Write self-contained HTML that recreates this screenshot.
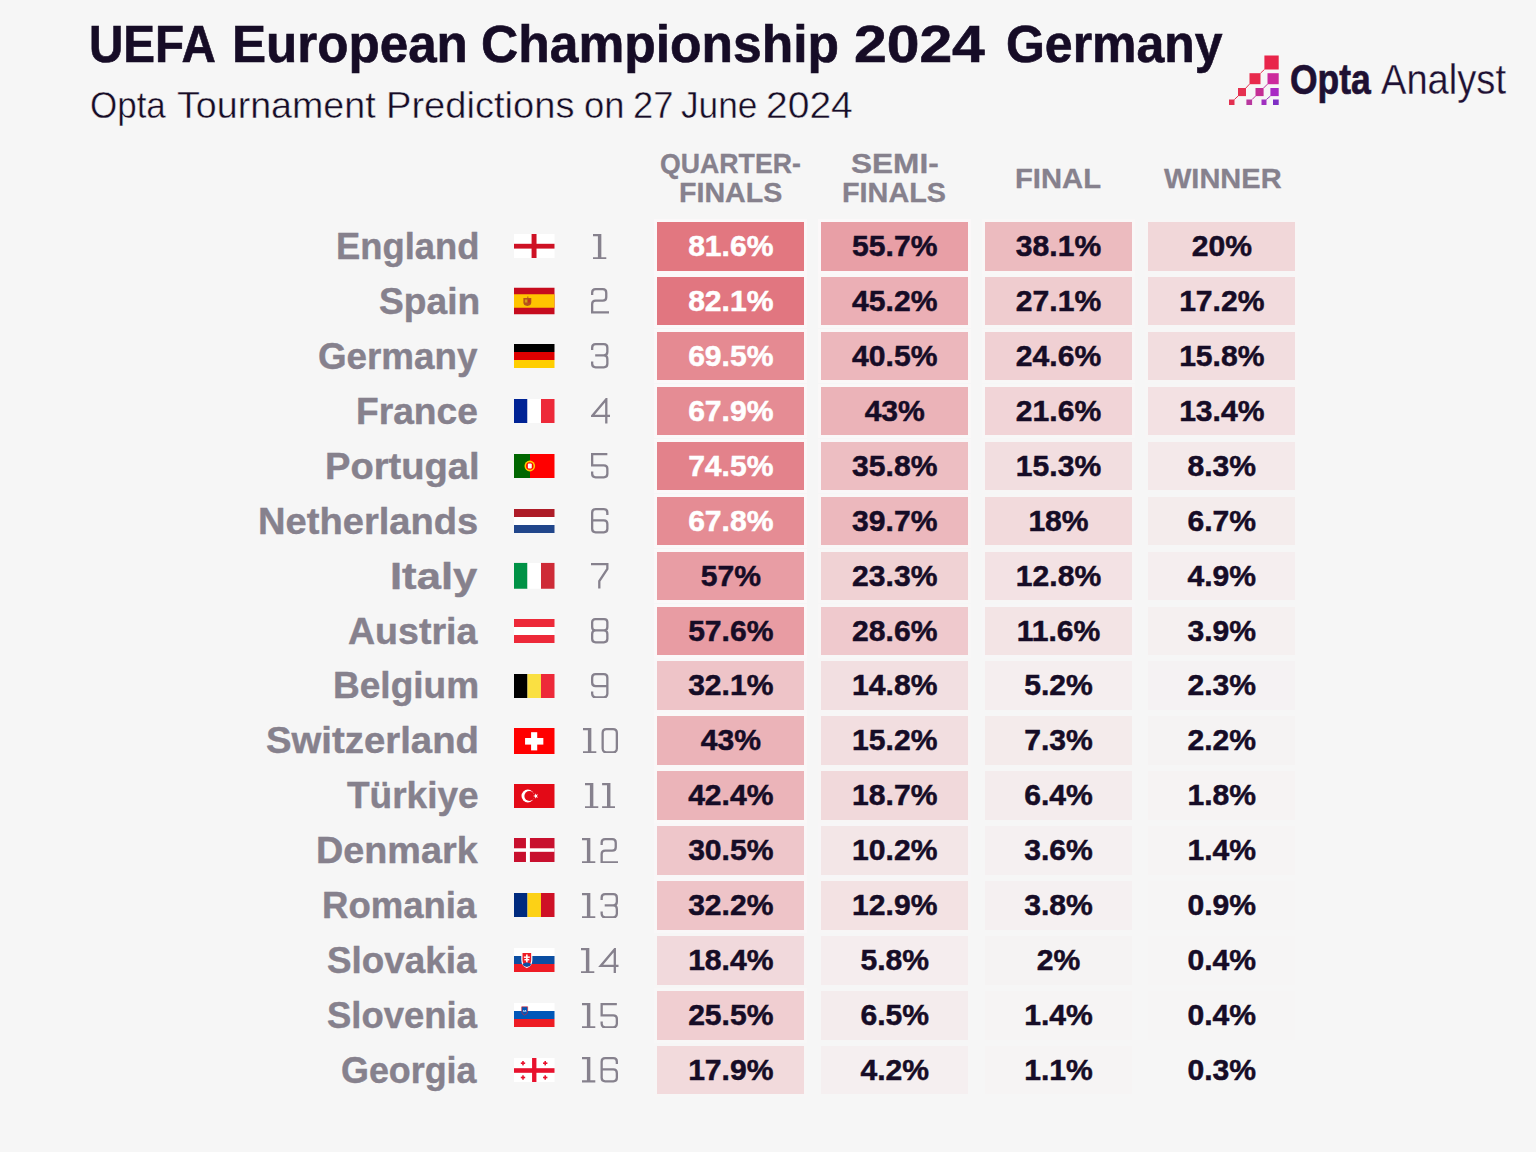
<!DOCTYPE html>
<html><head><meta charset="utf-8"><style>
html,body{margin:0;padding:0}
body{width:1536px;height:1152px;background:#f6f6f6;position:relative;overflow:hidden;font-family:"Liberation Sans",sans-serif}
.title{position:absolute;left:89px;top:15.3px;font-size:51px;font-weight:bold;color:#160c26;white-space:nowrap;line-height:60px;transform:scaleX(1.0168);transform-origin:0 0;-webkit-text-stroke:0.6px #160c26}
.sub{position:absolute;left:90px;top:84px;font-size:37px;color:#160c26;white-space:nowrap;line-height:44px;transform-origin:0 0;transform:scaleX(0.995)}
.hdr{position:absolute;width:200px;text-align:center;font-weight:bold;font-size:28.5px;line-height:29.5px;color:#86818d;top:148px;-webkit-text-stroke:0.3px #86818d}
.name{position:absolute;font-size:36.5px;font-weight:bold;color:#86818d;line-height:60px;white-space:nowrap;transform-origin:0 0;-webkit-text-stroke:0.4px #86818d}
.flag{position:absolute;left:514.4px;width:41px;transform:translateY(-50%);line-height:0}
.flag svg{display:block;width:40.5px}
.rk{position:absolute}
.pt{position:absolute;white-space:nowrap;line-height:80px;transform-origin:0 0}
.cell{position:absolute;width:147px;height:48.5px;text-align:center;line-height:48.1px;font-weight:bold;font-size:30.1px;-webkit-text-stroke:0.5px currentColor}
</style></head><body>
<div class="pt" style="left:89.20px;top:5.30px;font-family:'Liberation Sans';font-weight:bold;font-size:51px;-webkit-text-stroke:0.6px #160c26;color:#160c26;transform:scaleX(0.9333)">UEFA</div>
<div class="pt" style="left:231.79px;top:5.30px;font-family:'Liberation Sans';font-weight:bold;font-size:51px;-webkit-text-stroke:0.6px #160c26;color:#160c26;transform:scaleX(1.0026)">European</div>
<div class="pt" style="left:481.18px;top:5.30px;font-family:'Liberation Sans';font-weight:bold;font-size:51px;-webkit-text-stroke:0.6px #160c26;color:#160c26;transform:scaleX(1.0111)">Championship</div>
<div class="pt" style="left:854.05px;top:5.30px;font-family:'Liberation Sans';font-weight:bold;font-size:51px;-webkit-text-stroke:0.6px #160c26;color:#160c26;transform:scaleX(1.1531)">2024</div>
<div class="pt" style="left:1006.14px;top:5.30px;font-family:'Liberation Sans';font-weight:bold;font-size:51px;-webkit-text-stroke:0.6px #160c26;color:#160c26;transform:scaleX(0.9799)">Germany</div>
<div class="pt" style="left:89.81px;top:66.00px;font-family:'Liberation Sans';font-size:37px;-webkit-text-stroke:0.45px #f6f6f6;color:#160c26;transform:scaleX(0.9449)">Opta</div>
<div class="pt" style="left:177.38px;top:66.00px;font-family:'Liberation Sans';font-size:37px;-webkit-text-stroke:0.45px #f6f6f6;color:#160c26;transform:scaleX(1.0165)">Tournament</div>
<div class="pt" style="left:385.51px;top:66.00px;font-family:'Liberation Sans';font-size:37px;-webkit-text-stroke:0.45px #f6f6f6;color:#160c26;transform:scaleX(1.0296)">Predictions</div>
<div class="pt" style="left:583.93px;top:66.00px;font-family:'Liberation Sans';font-size:37px;-webkit-text-stroke:0.45px #f6f6f6;color:#160c26;transform:scaleX(0.9838)">on</div>
<div class="pt" style="left:633.43px;top:66.00px;font-family:'Liberation Sans';font-size:37px;-webkit-text-stroke:0.45px #f6f6f6;color:#160c26;transform:scaleX(0.9838)">27</div>
<div class="pt" style="left:681.25px;top:66.00px;font-family:'Liberation Sans';font-size:37px;-webkit-text-stroke:0.45px #f6f6f6;color:#160c26;transform:scaleX(0.9526)">June</div>
<div class="pt" style="left:766.09px;top:66.00px;font-family:'Liberation Sans';font-size:37px;-webkit-text-stroke:0.45px #f6f6f6;color:#160c26;transform:scaleX(1.0544)">2024</div>
<div class="pt" style="left:659.86px;top:122.75px;font-family:'Liberation Sans';font-weight:bold;font-size:28.5px;-webkit-text-stroke:0.3px #86818d;color:#86818d;transform:scaleX(0.9369)">QUARTER-</div>
<div class="pt" style="left:678.79px;top:152.25px;font-family:'Liberation Sans';font-weight:bold;font-size:28.5px;-webkit-text-stroke:0.3px #86818d;color:#86818d;transform:scaleX(1.0045)">FINALS</div>
<div class="pt" style="left:850.59px;top:122.75px;font-family:'Liberation Sans';font-weight:bold;font-size:28.5px;-webkit-text-stroke:0.3px #86818d;color:#86818d;transform:scaleX(1.1078)">SEMI-</div>
<div class="pt" style="left:841.73px;top:152.25px;font-family:'Liberation Sans';font-weight:bold;font-size:28.5px;-webkit-text-stroke:0.3px #86818d;color:#86818d;transform:scaleX(1.0105)">FINALS</div>
<div class="pt" style="left:1014.55px;top:137.75px;font-family:'Liberation Sans';font-weight:bold;font-size:28.5px;-webkit-text-stroke:0.3px #86818d;color:#86818d;transform:scaleX(1.0247)">FINAL</div>
<div class="pt" style="left:1163.70px;top:137.75px;font-family:'Liberation Sans';font-weight:bold;font-size:28.5px;-webkit-text-stroke:0.3px #86818d;color:#86818d;transform:scaleX(1.0174)">WINNER</div>
<div class="pt" style="left:1290.41px;top:39.50px;font-family:'Liberation Sans';font-weight:bold;font-size:42px;-webkit-text-stroke:0.7px #1e1033;color:#1e1033;transform:scaleX(0.8437)">Opta</div>
<div class="pt" style="left:1380.69px;top:39.50px;font-family:'Liberation Sans';font-size:42px;-webkit-text-stroke:0.3px #f6f6f6;color:#1e1033;transform:scaleX(0.9074)">Analyst</div>

<svg style="position:absolute;left:1224px;top:50px" width="60" height="60" viewBox="1224 50 60 60">
<g stroke-width="1" fill="none">
<line x1="1234.4" y1="99.5" x2="1238" y2="96.1" stroke="#e6304f"/>
<line x1="1245.9" y1="88" x2="1249.5" y2="84.1" stroke="#e6304f"/>
<line x1="1260.5" y1="73.2" x2="1264.4" y2="69.5" stroke="#e6304f"/>
<line x1="1252.1" y1="99.5" x2="1255.5" y2="96.1" stroke="#c0309e"/>
<line x1="1263.6" y1="88" x2="1267.5" y2="84.1" stroke="#c0309e"/>
<line x1="1266.4" y1="99.5" x2="1270.4" y2="96.1" stroke="#a030c0"/>
</g>
<rect x="1264.4" y="55.5" width="14.3" height="14" fill="#e8254a"/>
<rect x="1249.5" y="73.2" width="11" height="11" fill="#e82a4c"/>
<rect x="1267.5" y="73.2" width="11.2" height="11" fill="#cc2a9c"/>
<rect x="1238" y="88" width="8" height="8.1" fill="#e5304f"/>
<rect x="1255.5" y="88" width="8.1" height="8.1" fill="#c42e94"/>
<rect x="1270.4" y="88" width="8.3" height="8.1" fill="#a82ac4"/>
<rect x="1229" y="99.5" width="5.5" height="5.5" fill="#e23050"/>
<rect x="1246.4" y="99.5" width="5.7" height="5.5" fill="#b8389e"/>
<rect x="1261.5" y="99.5" width="5" height="5.5" fill="#a030c0"/>
<rect x="1273" y="99.5" width="5.7" height="5.5" fill="#7e2ec4"/>
</svg>
<div class="name" style="left:335.81px;top:217.00px;transform:scaleX(0.9964)">England</div><div class="flag" style="top:246.25px"><svg preserveAspectRatio="none" width="41" height="24" viewBox="0 0 41 24"><rect width="41" height="24" fill="#fff"/><rect x="0" y="9.8" width="41" height="4.8" fill="#ce1124"/><rect x="17.8" y="0" width="5" height="24" fill="#ce1124"/></svg></div><svg class="rk" style="left:593.35px;top:233.50px" width="13.30" height="25.5" viewBox="0 0 13.30 25.5"><g fill="none" stroke="#86818d" stroke-width="2.3"><path transform="translate(0.00,0)" d="M0,1.15 H7.2 V24.35 M0,24.35 H13.3 M6.05,1.15 V25.5"/></g></svg><div class="cell" style="left:657.3px;top:222.00px;background:#e27780;color:#fff;box-shadow:0 0 0 3px rgba(255,250,251,0.60)">81.6%</div><div class="cell" style="left:821.25px;top:222.00px;background:#e89fa6;color:#160c26;box-shadow:0 0 0 3px rgba(255,250,251,0.56)">55.7%</div><div class="cell" style="left:985px;top:222.00px;background:#ecbbbf;color:#160c26;box-shadow:0 0 0 3px rgba(255,250,251,0.38)">38.1%</div><div class="cell" style="left:1148.3px;top:222.00px;background:#f1d7d9;color:#160c26;box-shadow:0 0 0 3px rgba(255,250,251,0.20)">20%</div><div class="name" style="left:378.58px;top:271.93px;transform:scaleX(1.0177)">Spain</div><div class="flag" style="top:301.18px"><svg preserveAspectRatio="none" width="41" height="27" viewBox="0 0 41 27"><rect width="41" height="27" fill="#c60b1e"/><rect y="6.75" width="41" height="13.5" fill="#ffc400"/><path d="M9.5,10.5 h4 v-1.5 h1 v1.5 h3 v4.5 q0,3 -4,3.5 q-4,-0.5 -4,-3.5z" fill="#b5531d"/><rect x="11" y="12" width="2.6" height="3" fill="#d4a017"/><rect x="14" y="12" width="2.4" height="3" fill="#c8321a"/></svg></div><svg class="rk" style="left:591.00px;top:288.43px" width="18.00" height="25.5" viewBox="0 0 18.00 25.5"><g fill="none" stroke="#86818d" stroke-width="2.3"><path transform="translate(0.00,0)" d="M1.15,7 V4.65 Q1.15,1.15 4.65,1.15 H11.749999999999998 Q15.249999999999998,1.15 15.249999999999998,4.65 V9.2 Q15.249999999999998,12.6 11.749999999999998,12.6 H4.65 Q1.15,12.6 1.15,16 V24.35 H18"/></g></svg><div class="cell" style="left:657.3px;top:276.93px;background:#e17680;color:#fff;box-shadow:0 0 0 3px rgba(255,250,251,0.60)">82.1%</div><div class="cell" style="left:821.25px;top:276.93px;background:#ebafb5;color:#160c26;box-shadow:0 0 0 3px rgba(255,250,251,0.45)">45.2%</div><div class="cell" style="left:985px;top:276.93px;background:#efcccf;color:#160c26;box-shadow:0 0 0 3px rgba(255,250,251,0.27)">27.1%</div><div class="cell" style="left:1148.3px;top:276.93px;background:#f2dbdd;color:#160c26;box-shadow:0 0 0 3px rgba(255,250,251,0.17)">17.2%</div><div class="name" style="left:318.09px;top:326.86px;transform:scaleX(1.0076)">Germany</div><div class="flag" style="top:356.11px"><svg preserveAspectRatio="none" width="41" height="24" viewBox="0 0 41 24"><rect width="41" height="8" fill="#000"/><rect y="8" width="41" height="8" fill="#dd0000"/><rect y="16" width="41" height="8" fill="#ffce00"/></svg></div><svg class="rk" style="left:591.25px;top:343.36px" width="17.50" height="25.5" viewBox="0 0 17.50 25.5"><g fill="none" stroke="#86818d" stroke-width="2.3"><path transform="translate(0.00,0)" d="M1.15,7 V4.65 Q1.15,1.15 4.65,1.15 H12.850000000000001 Q16.35,1.15 16.35,4.65 V8.8 Q16.35,12.4 12.850000000000001,12.4 H4.2 M12.850000000000001,12.4 Q16.35,12.4 16.35,16 V20.85 Q16.35,24.35 12.850000000000001,24.35 H4.65 Q1.15,24.35 1.15,20.85 V18.5"/></g></svg><div class="cell" style="left:657.3px;top:331.86px;background:#e58a92;color:#fff;box-shadow:0 0 0 3px rgba(255,250,251,0.60)">69.5%</div><div class="cell" style="left:821.25px;top:331.86px;background:#ecb7bc;color:#160c26;box-shadow:0 0 0 3px rgba(255,250,251,0.41)">40.5%</div><div class="cell" style="left:985px;top:331.86px;background:#f0d0d3;color:#160c26;box-shadow:0 0 0 3px rgba(255,250,251,0.25)">24.6%</div><div class="cell" style="left:1148.3px;top:331.86px;background:#f2dddf;color:#160c26;box-shadow:0 0 0 3px rgba(255,250,251,0.16)">15.8%</div><div class="name" style="left:356.06px;top:381.79px;transform:scaleX(1.0188)">France</div><div class="flag" style="top:411.04px"><svg preserveAspectRatio="none" width="41" height="24" viewBox="0 0 41 24"><rect width="13.67" height="24" fill="#002395"/><rect x="13.67" width="13.67" height="24" fill="#fff"/><rect x="27.33" width="13.67" height="24" fill="#ed2939"/></svg></div><svg class="rk" style="left:590.50px;top:398.29px" width="19.00" height="25.5" viewBox="0 0 19.00 25.5"><g fill="none" stroke="#86818d" stroke-width="2.3"><path transform="translate(0.00,0)" d="M15.3,25.5 V1.15 L1.15,17.9 H19"/></g></svg><div class="cell" style="left:657.3px;top:386.79px;background:#e58c94;color:#fff;box-shadow:0 0 0 3px rgba(255,250,251,0.60)">67.9%</div><div class="cell" style="left:821.25px;top:386.79px;background:#ebb3b8;color:#160c26;box-shadow:0 0 0 3px rgba(255,250,251,0.43)">43%</div><div class="cell" style="left:985px;top:386.79px;background:#f1d4d7;color:#160c26;box-shadow:0 0 0 3px rgba(255,250,251,0.22)">21.6%</div><div class="cell" style="left:1148.3px;top:386.79px;background:#f3e1e3;color:#160c26;box-shadow:0 0 0 3px rgba(255,250,251,0.13)">13.4%</div><div class="name" style="left:324.81px;top:436.72px;transform:scaleX(1.0444)">Portugal</div><div class="flag" style="top:465.97px"><svg preserveAspectRatio="none" width="41" height="24" viewBox="0 0 41 24"><rect width="41" height="24" fill="#ff0000"/><rect width="16.2" height="24" fill="#006600"/><circle cx="16" cy="12" r="5.4" fill="#ffcc00"/><circle cx="16" cy="12" r="3.8" fill="#ff0000"/><rect x="14" y="9.6" width="4" height="4.8" rx="1" fill="#fff"/></svg></div><svg class="rk" style="left:591.25px;top:453.22px" width="17.50" height="25.5" viewBox="0 0 17.50 25.5"><g fill="none" stroke="#86818d" stroke-width="2.3"><path transform="translate(0.00,0)" d="M16.35,1.15 H1.15 V12.3 H12.850000000000001 Q16.35,12.3 16.35,15.8 V20.85 Q16.35,24.35 12.850000000000001,24.35 H4.65 Q1.15,24.35 1.15,20.85 V18.5"/></g></svg><div class="cell" style="left:657.3px;top:441.72px;background:#e3828b;color:#fff;box-shadow:0 0 0 3px rgba(255,250,251,0.60)">74.5%</div><div class="cell" style="left:821.25px;top:441.72px;background:#edbec2;color:#160c26;box-shadow:0 0 0 3px rgba(255,250,251,0.36)">35.8%</div><div class="cell" style="left:985px;top:441.72px;background:#f2dee0;color:#160c26;box-shadow:0 0 0 3px rgba(255,250,251,0.15)">15.3%</div><div class="cell" style="left:1148.3px;top:441.72px;background:#f4e9ea;color:#160c26;box-shadow:0 0 0 3px rgba(255,250,251,0.08)">8.3%</div><div class="name" style="left:258.01px;top:491.65px;transform:scaleX(1.0442)">Netherlands</div><div class="flag" style="top:520.90px"><svg preserveAspectRatio="none" width="41" height="24" viewBox="0 0 41 24"><rect width="41" height="8" fill="#ae1c28"/><rect y="8" width="41" height="8" fill="#fff"/><rect y="16" width="41" height="8" fill="#21468b"/></svg></div><svg class="rk" style="left:591.25px;top:508.15px" width="17.50" height="25.5" viewBox="0 0 17.50 25.5"><g fill="none" stroke="#86818d" stroke-width="2.3"><path transform="translate(0.00,0)" d="M16.35,7 V4.65 Q16.35,1.15 12.850000000000001,1.15 H4.65 Q1.15,1.15 1.15,4.65 V20.85 Q1.15,24.35 4.65,24.35 H12.850000000000001 Q16.35,24.35 16.35,20.85 V16 Q16.35,12.4 12.850000000000001,12.4 H1.15"/></g></svg><div class="cell" style="left:657.3px;top:496.65px;background:#e58c94;color:#fff;box-shadow:0 0 0 3px rgba(255,250,251,0.60)">67.8%</div><div class="cell" style="left:821.25px;top:496.65px;background:#ecb8bd;color:#160c26;box-shadow:0 0 0 3px rgba(255,250,251,0.40)">39.7%</div><div class="cell" style="left:985px;top:496.65px;background:#f2dadc;color:#160c26;box-shadow:0 0 0 3px rgba(255,250,251,0.18)">18%</div><div class="cell" style="left:1148.3px;top:496.65px;background:#f4ecec;color:#160c26;box-shadow:0 0 0 3px rgba(255,250,251,0.07)">6.7%</div><div class="name" style="left:390.11px;top:546.58px;transform:scaleX(1.1944)">Italy</div><div class="flag" style="top:575.83px"><svg preserveAspectRatio="none" width="41" height="26.6" viewBox="0 0 41 26.6"><rect width="13.67" height="26.6" fill="#009246"/><rect x="13.67" width="13.67" height="26.6" fill="#fff"/><rect x="27.33" width="13.67" height="26.6" fill="#ce2b37"/></svg></div><svg class="rk" style="left:591.25px;top:563.08px" width="17.50" height="25.5" viewBox="0 0 17.50 25.5"><g fill="none" stroke="#86818d" stroke-width="2.3"><path transform="translate(0.00,0)" d="M0,1.15 H16.35 V6 L8.3,18.2 V25.5"/></g></svg><div class="cell" style="left:657.3px;top:551.58px;background:#e89da4;color:#160c26;box-shadow:0 0 0 3px rgba(255,250,251,0.57)">57%</div><div class="cell" style="left:821.25px;top:551.58px;background:#f0d2d4;color:#160c26;box-shadow:0 0 0 3px rgba(255,250,251,0.23)">23.3%</div><div class="cell" style="left:985px;top:551.58px;background:#f3e2e4;color:#160c26;box-shadow:0 0 0 3px rgba(255,250,251,0.13)">12.8%</div><div class="cell" style="left:1148.3px;top:551.58px;background:#f5eeef;color:#160c26;box-shadow:0 0 0 3px rgba(255,250,251,0.05)">4.9%</div><div class="name" style="left:347.77px;top:601.51px;transform:scaleX(1.0280)">Austria</div><div class="flag" style="top:630.76px"><svg preserveAspectRatio="none" width="41" height="24" viewBox="0 0 41 24"><rect width="41" height="8" fill="#ed2939"/><rect y="8" width="41" height="8" fill="#fff"/><rect y="16" width="41" height="8" fill="#ed2939"/></svg></div><svg class="rk" style="left:591.25px;top:618.01px" width="17.50" height="25.5" viewBox="0 0 17.50 25.5"><g fill="none" stroke="#86818d" stroke-width="2.3"><path transform="translate(0.00,0)" d="M4.35,1.15 H13.150000000000002 Q16.35,1.15 16.35,4.35 V9 Q16.35,12.4 13.150000000000002,12.4 H4.35 Q1.15,12.4 1.15,9 V4.35 Q1.15,1.15 4.35,1.15Z M4.65,12.4 H12.850000000000001 Q16.35,12.4 16.35,16 V20.85 Q16.35,24.35 12.850000000000001,24.35 H4.65 Q1.15,24.35 1.15,20.85 V16 Q1.15,12.4 4.65,12.4Z"/></g></svg><div class="cell" style="left:657.3px;top:606.51px;background:#e89ca3;color:#160c26;box-shadow:0 0 0 3px rgba(255,250,251,0.58)">57.6%</div><div class="cell" style="left:821.25px;top:606.51px;background:#efc9cd;color:#160c26;box-shadow:0 0 0 3px rgba(255,250,251,0.29)">28.6%</div><div class="cell" style="left:985px;top:606.51px;background:#f3e4e5;color:#160c26;box-shadow:0 0 0 3px rgba(255,250,251,0.12)">11.6%</div><div class="cell" style="left:1148.3px;top:606.51px;background:#f5f0f0;color:#160c26;box-shadow:0 0 0 3px rgba(255,250,251,0.04)">3.9%</div><div class="name" style="left:333.17px;top:656.44px;transform:scaleX(1.0150)">Belgium</div><div class="flag" style="top:685.69px"><svg preserveAspectRatio="none" width="41" height="24" viewBox="0 0 41 24"><rect width="13.67" height="24" fill="#000"/><rect x="13.67" width="13.67" height="24" fill="#fae042"/><rect x="27.33" width="13.67" height="24" fill="#ed2939"/></svg></div><svg class="rk" style="left:591.25px;top:672.94px" width="17.50" height="25.5" viewBox="0 0 17.50 25.5"><g fill="none" stroke="#86818d" stroke-width="2.3"><path transform="translate(0.00,0)" d="M1.15,18.5 V20.85 Q1.15,24.35 4.65,24.35 H12.850000000000001 Q16.35,24.35 16.35,20.85 V4.65 Q16.35,1.15 12.850000000000001,1.15 H4.65 Q1.15,1.15 1.15,4.65 V9.5 Q1.15,13.1 4.65,13.1 H16.35"/></g></svg><div class="cell" style="left:657.3px;top:661.44px;background:#eec4c8;color:#160c26;box-shadow:0 0 0 3px rgba(255,250,251,0.32)">32.1%</div><div class="cell" style="left:821.25px;top:661.44px;background:#f2dfe1;color:#160c26;box-shadow:0 0 0 3px rgba(255,250,251,0.15)">14.8%</div><div class="cell" style="left:985px;top:661.44px;background:#f5eeef;color:#160c26;box-shadow:0 0 0 3px rgba(255,250,251,0.05)">5.2%</div><div class="cell" style="left:1148.3px;top:661.44px;background:#f5f2f3;color:#160c26;box-shadow:0 0 0 3px rgba(255,250,251,0.02)">2.3%</div><div class="name" style="left:266.25px;top:711.37px;transform:scaleX(1.0500)">Switzerland</div><div class="flag" style="top:740.62px"><svg preserveAspectRatio="none" width="41" height="26" viewBox="0 0 41 26"><rect width="41" height="26" fill="#ff0000"/><rect x="17.3" y="4.2" width="6.2" height="18.2" fill="#fff"/><rect x="11.2" y="10" width="18.5" height="6.6" fill="#fff"/></svg></div><svg class="rk" style="left:582.50px;top:727.87px" width="35.00" height="25.5" viewBox="0 0 35.00 25.5"><g fill="none" stroke="#86818d" stroke-width="2.3"><path transform="translate(0.00,0)" d="M0,1.15 H7.2 V24.35 M0,24.35 H13.3 M6.05,1.15 V25.5"/><path transform="translate(18.50,0)" d="M4.949999999999999,1.15 H11.55 Q15.35,1.15 15.35,4.949999999999999 V20.55 Q15.35,24.35 11.55,24.35 H4.949999999999999 Q1.15,24.35 1.15,20.55 V4.949999999999999 Q1.15,1.15 4.949999999999999,1.15Z"/></g></svg><div class="cell" style="left:657.3px;top:716.37px;background:#ebb3b8;color:#160c26;box-shadow:0 0 0 3px rgba(255,250,251,0.43)">43%</div><div class="cell" style="left:821.25px;top:716.37px;background:#f2dee0;color:#160c26;box-shadow:0 0 0 3px rgba(255,250,251,0.15)">15.2%</div><div class="cell" style="left:985px;top:716.37px;background:#f4ebeb;color:#160c26;box-shadow:0 0 0 3px rgba(255,250,251,0.07)">7.3%</div><div class="cell" style="left:1148.3px;top:716.37px;background:#f5f3f3;color:#160c26;box-shadow:0 0 0 3px rgba(255,250,251,0.02)">2.2%</div><div class="name" style="left:346.60px;top:766.30px;transform:scaleX(1.0132)">Türkiye</div><div class="flag" style="top:795.55px"><svg preserveAspectRatio="none" width="41" height="24" viewBox="0 0 41 24"><rect width="41" height="24" fill="#e30a17"/><circle cx="14" cy="12" r="6.4" fill="#fff"/><circle cx="15.6" cy="12" r="5.1" fill="#e30a17"/><polygon points="19.3,12 24.4,10.3 21.2,14.7 21.2,9.3 24.4,13.7" fill="#fff"/></svg></div><svg class="rk" style="left:584.80px;top:782.80px" width="30.40" height="25.5" viewBox="0 0 30.40 25.5"><g fill="none" stroke="#86818d" stroke-width="2.3"><path transform="translate(0.00,0)" d="M0,1.15 H7.2 V24.35 M0,24.35 H13.3 M6.05,1.15 V25.5"/><path transform="translate(17.10,0)" d="M0,1.15 H7.2 V24.35 M0,24.35 H13.3 M6.05,1.15 V25.5"/></g></svg><div class="cell" style="left:657.3px;top:771.30px;background:#ebb4b9;color:#160c26;box-shadow:0 0 0 3px rgba(255,250,251,0.42)">42.4%</div><div class="cell" style="left:821.25px;top:771.30px;background:#f1d9db;color:#160c26;box-shadow:0 0 0 3px rgba(255,250,251,0.19)">18.7%</div><div class="cell" style="left:985px;top:771.30px;background:#f4eced;color:#160c26;box-shadow:0 0 0 3px rgba(255,250,251,0.06)">6.4%</div><div class="cell" style="left:1148.3px;top:771.30px;background:#f6f3f3;color:#160c26;box-shadow:0 0 0 3px rgba(255,250,251,0.02)">1.8%</div><div class="name" style="left:315.83px;top:821.23px;transform:scaleX(1.0351)">Denmark</div><div class="flag" style="top:850.48px"><svg preserveAspectRatio="none" width="41" height="24" viewBox="0 0 41 24"><rect width="41" height="24" fill="#c8102e"/><rect x="12.1" width="4" height="24" fill="#fff"/><rect y="10.3" width="41" height="3.5" fill="#fff"/></svg></div><svg class="rk" style="left:581.75px;top:837.73px" width="36.50" height="25.5" viewBox="0 0 36.50 25.5"><g fill="none" stroke="#86818d" stroke-width="2.3"><path transform="translate(0.00,0)" d="M0,1.15 H7.2 V24.35 M0,24.35 H13.3 M6.05,1.15 V25.5"/><path transform="translate(18.50,0)" d="M1.15,7 V4.65 Q1.15,1.15 4.65,1.15 H11.749999999999998 Q15.249999999999998,1.15 15.249999999999998,4.65 V9.2 Q15.249999999999998,12.6 11.749999999999998,12.6 H4.65 Q1.15,12.6 1.15,16 V24.35 H18"/></g></svg><div class="cell" style="left:657.3px;top:826.23px;background:#eec6ca;color:#160c26;box-shadow:0 0 0 3px rgba(255,250,251,0.30)">30.5%</div><div class="cell" style="left:821.25px;top:826.23px;background:#f3e6e7;color:#160c26;box-shadow:0 0 0 3px rgba(255,250,251,0.10)">10.2%</div><div class="cell" style="left:985px;top:826.23px;background:#f5f0f1;color:#160c26;box-shadow:0 0 0 3px rgba(255,250,251,0.04)">3.6%</div><div class="cell" style="left:1148.3px;top:826.23px;background:#f6f4f4;color:#160c26;box-shadow:0 0 0 3px rgba(255,250,251,0.01)">1.4%</div><div class="name" style="left:322.20px;top:876.16px;transform:scaleX(1.0007)">Romania</div><div class="flag" style="top:905.41px"><svg preserveAspectRatio="none" width="41" height="24" viewBox="0 0 41 24"><rect width="13.67" height="24" fill="#002b7f"/><rect x="13.67" width="13.67" height="24" fill="#fcd116"/><rect x="27.33" width="13.67" height="24" fill="#ce1126"/></svg></div><svg class="rk" style="left:582.00px;top:892.66px" width="36.00" height="25.5" viewBox="0 0 36.00 25.5"><g fill="none" stroke="#86818d" stroke-width="2.3"><path transform="translate(0.00,0)" d="M0,1.15 H7.2 V24.35 M0,24.35 H13.3 M6.05,1.15 V25.5"/><path transform="translate(18.50,0)" d="M1.15,7 V4.65 Q1.15,1.15 4.65,1.15 H12.850000000000001 Q16.35,1.15 16.35,4.65 V8.8 Q16.35,12.4 12.850000000000001,12.4 H4.2 M12.850000000000001,12.4 Q16.35,12.4 16.35,16 V20.85 Q16.35,24.35 12.850000000000001,24.35 H4.65 Q1.15,24.35 1.15,20.85 V18.5"/></g></svg><div class="cell" style="left:657.3px;top:881.16px;background:#eec4c8;color:#160c26;box-shadow:0 0 0 3px rgba(255,250,251,0.32)">32.2%</div><div class="cell" style="left:821.25px;top:881.16px;background:#f3e2e3;color:#160c26;box-shadow:0 0 0 3px rgba(255,250,251,0.13)">12.9%</div><div class="cell" style="left:985px;top:881.16px;background:#f5f0f1;color:#160c26;box-shadow:0 0 0 3px rgba(255,250,251,0.04)">3.8%</div><div class="cell" style="left:1148.3px;top:881.16px;background:#f6f5f5;color:#160c26;box-shadow:0 0 0 3px rgba(255,250,251,0.01)">0.9%</div><div class="name" style="left:326.99px;top:931.09px;transform:scaleX(1.0088)">Slovakia</div><div class="flag" style="top:960.34px"><svg preserveAspectRatio="none" width="41" height="24" viewBox="0 0 41 24"><rect width="41" height="8" fill="#fff"/><rect y="8" width="41" height="8" fill="#0b4ea2"/><rect y="16" width="41" height="8" fill="#ee1c25"/><path d="M8,4.5 h10 v7.5 q0,5.5 -5,7.5 q-5,-2 -5,-7.5z" fill="#ee1c25" stroke="#fff" stroke-width="1.2"/><rect x="12.2" y="6.5" width="1.6" height="8" fill="#fff"/><rect x="10" y="8.5" width="6" height="1.4" fill="#fff"/><rect x="10.5" y="11" width="5" height="1.4" fill="#fff"/><path d="M8.6,16 q4.4,-3 8.8,0 l-1,1.8 q-3.4,1.8 -6.8,0z" fill="#0b4ea2"/></svg></div><svg class="rk" style="left:581.25px;top:947.59px" width="37.50" height="25.5" viewBox="0 0 37.50 25.5"><g fill="none" stroke="#86818d" stroke-width="2.3"><path transform="translate(0.00,0)" d="M0,1.15 H7.2 V24.35 M0,24.35 H13.3 M6.05,1.15 V25.5"/><path transform="translate(18.50,0)" d="M15.3,25.5 V1.15 L1.15,17.9 H19"/></g></svg><div class="cell" style="left:657.3px;top:936.09px;background:#f1d9dc;color:#160c26;box-shadow:0 0 0 3px rgba(255,250,251,0.18)">18.4%</div><div class="cell" style="left:821.25px;top:936.09px;background:#f5edee;color:#160c26;box-shadow:0 0 0 3px rgba(255,250,251,0.06)">5.8%</div><div class="cell" style="left:985px;top:936.09px;background:#f5f3f3;color:#160c26;box-shadow:0 0 0 3px rgba(255,250,251,0.02)">2%</div><div class="cell" style="left:1148.3px;top:936.09px;background:#f6f5f5;color:#160c26;box-shadow:0 0 0 3px rgba(255,250,251,0.00)">0.4%</div><div class="name" style="left:326.50px;top:986.02px;transform:scaleX(0.9987)">Slovenia</div><div class="flag" style="top:1015.27px"><svg preserveAspectRatio="none" width="41" height="24" viewBox="0 0 41 24"><rect width="41" height="8" fill="#fff"/><rect y="8" width="41" height="8" fill="#0057b8"/><rect y="16" width="41" height="8" fill="#ed1c24"/><path d="M7.8,3.8 h6 v4.5 q0,3 -3,3.8 q-3,-0.8 -3,-3.8z" fill="#0057b8" stroke="#ed1c24" stroke-width=".6"/><path d="M8.8,8.6 l1,-1.6 l1,1.1 l1,-1.1 l1,1.6z" fill="#fff"/></svg></div><svg class="rk" style="left:582.00px;top:1002.52px" width="36.00" height="25.5" viewBox="0 0 36.00 25.5"><g fill="none" stroke="#86818d" stroke-width="2.3"><path transform="translate(0.00,0)" d="M0,1.15 H7.2 V24.35 M0,24.35 H13.3 M6.05,1.15 V25.5"/><path transform="translate(18.50,0)" d="M16.35,1.15 H1.15 V12.3 H12.850000000000001 Q16.35,12.3 16.35,15.8 V20.85 Q16.35,24.35 12.850000000000001,24.35 H4.65 Q1.15,24.35 1.15,20.85 V18.5"/></g></svg><div class="cell" style="left:657.3px;top:991.02px;background:#f0ced1;color:#160c26;box-shadow:0 0 0 3px rgba(255,250,251,0.26)">25.5%</div><div class="cell" style="left:821.25px;top:991.02px;background:#f4eced;color:#160c26;box-shadow:0 0 0 3px rgba(255,250,251,0.07)">6.5%</div><div class="cell" style="left:985px;top:991.02px;background:#f6f4f4;color:#160c26;box-shadow:0 0 0 3px rgba(255,250,251,0.01)">1.4%</div><div class="cell" style="left:1148.3px;top:991.02px;background:#f6f5f5;color:#160c26;box-shadow:0 0 0 3px rgba(255,250,251,0.00)">0.4%</div><div class="name" style="left:340.72px;top:1040.95px;transform:scaleX(0.9826)">Georgia</div><div class="flag" style="top:1070.20px"><svg preserveAspectRatio="none" width="41" height="24" viewBox="0 0 41 24"><rect width="41" height="24" fill="#fff"/><rect y="10.2" width="41" height="4.6" fill="#e8112d"/><rect x="18.3" width="4.4" height="24" fill="#e8112d"/><g fill="#e8112d"><rect x="8.299999999999999" y="3.0" width="1.6" height="4.4"/><rect x="6.8999999999999995" y="4.4" width="4.4" height="1.6"/><rect x="30.8" y="3.0" width="1.6" height="4.4"/><rect x="29.400000000000002" y="4.4" width="4.4" height="1.6"/><rect x="8.299999999999999" y="17.3" width="1.6" height="4.4"/><rect x="6.8999999999999995" y="18.7" width="4.4" height="1.6"/><rect x="30.8" y="17.3" width="1.6" height="4.4"/><rect x="29.400000000000002" y="18.7" width="4.4" height="1.6"/></g></svg></div><svg class="rk" style="left:582.00px;top:1057.45px" width="36.00" height="25.5" viewBox="0 0 36.00 25.5"><g fill="none" stroke="#86818d" stroke-width="2.3"><path transform="translate(0.00,0)" d="M0,1.15 H7.2 V24.35 M0,24.35 H13.3 M6.05,1.15 V25.5"/><path transform="translate(18.50,0)" d="M16.35,7 V4.65 Q16.35,1.15 12.850000000000001,1.15 H4.65 Q1.15,1.15 1.15,4.65 V20.85 Q1.15,24.35 4.65,24.35 H12.850000000000001 Q16.35,24.35 16.35,20.85 V16 Q16.35,12.4 12.850000000000001,12.4 H1.15"/></g></svg><div class="cell" style="left:657.3px;top:1045.95px;background:#f2dadc;color:#160c26;box-shadow:0 0 0 3px rgba(255,250,251,0.18)">17.9%</div><div class="cell" style="left:821.25px;top:1045.95px;background:#f5eff0;color:#160c26;box-shadow:0 0 0 3px rgba(255,250,251,0.04)">4.2%</div><div class="cell" style="left:985px;top:1045.95px;background:#f6f4f4;color:#160c26;box-shadow:0 0 0 3px rgba(255,250,251,0.01)">1.1%</div><div class="cell" style="left:1148.3px;top:1045.95px;background:#f6f6f6;color:#160c26;box-shadow:0 0 0 3px rgba(255,250,251,0.00)">0.3%</div>
</body></html>
